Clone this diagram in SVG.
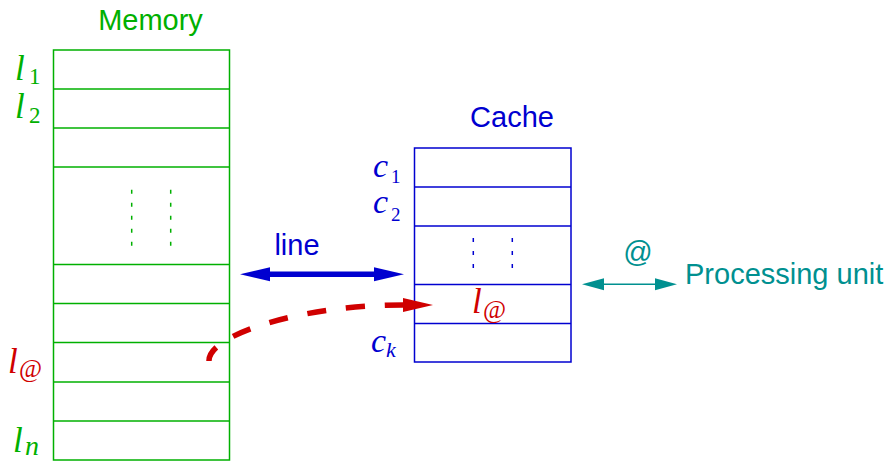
<svg xmlns="http://www.w3.org/2000/svg" width="889" height="461" viewBox="0 0 889 461">
<style>
.sans{font-family:"Liberation Sans",Arial,sans-serif;font-size:29px}
.mi{font-family:"Liberation Serif","Times New Roman",serif;font-style:italic}
.rm{font-family:"Liberation Serif","Times New Roman",serif}
.g{fill:#00b000}.b{fill:#0000d0}.r{fill:#d00000}.t{fill:#009090}
.box{fill:none;stroke-width:1.5}
.dots{stroke-width:1.5;stroke-dasharray:4 9}
</style>
<defs>
<marker id="ab" markerUnits="userSpaceOnUse" markerWidth="30" markerHeight="14" refX="0" refY="7" orient="auto-start-reverse" overflow="visible"><path d="M0,0 L30,7 L0,14 z" fill="#0000d0"/></marker>
<marker id="at" markerUnits="userSpaceOnUse" markerWidth="22" markerHeight="12" refX="0" refY="6" orient="auto-start-reverse" overflow="visible"><path d="M0,0 L22,6 L0,12 z" fill="#009090"/></marker>
<marker id="ar" markerUnits="userSpaceOnUse" markerWidth="30" markerHeight="14" refX="0" refY="7" orient="auto" overflow="visible"><path d="M0,0 L30,7 L0,14 z" fill="#d00000"/></marker>
</defs>

<g id="memory">
<text class="sans g" x="150.5" y="30" text-anchor="middle">Memory</text>
<rect class="box" x="53.5" y="50" width="176" height="410" stroke="#00b000"/>
<g stroke="#00b000" stroke-width="1.5">
<line x1="53.5" y1="89" x2="229.5" y2="89"/>
<line x1="53.5" y1="128" x2="229.5" y2="128"/>
<line x1="53.5" y1="167" x2="229.5" y2="167"/>
<line x1="53.5" y1="264.5" x2="229.5" y2="264.5"/>
<line x1="53.5" y1="303.5" x2="229.5" y2="303.5"/>
<line x1="53.5" y1="342.5" x2="229.5" y2="342.5"/>
<line x1="53.5" y1="382" x2="229.5" y2="382"/>
<line x1="53.5" y1="421" x2="229.5" y2="421"/>
</g>
<g stroke="#00b000" class="dots">
<line x1="131.7" y1="189.7" x2="131.7" y2="246"/>
<line x1="170.7" y1="189.7" x2="170.7" y2="246"/>
</g>
<text class="g"><tspan class="mi" x="15" y="80" font-size="35">l</tspan><tspan class="rm" x="29" y="84" font-size="23">1</tspan></text>
<text class="g"><tspan class="mi" x="15" y="118" font-size="35">l</tspan><tspan class="rm" x="29" y="123" font-size="23">2</tspan></text>
<text class="r"><tspan class="mi" x="8" y="372.7" font-size="35">l</tspan><tspan class="rm" x="19" y="376.5" font-size="25">@</tspan></text>
<text class="g"><tspan class="mi" x="13" y="451.7" font-size="35">l</tspan><tspan class="mi" x="25" y="455" font-size="28">n</tspan></text>
</g>

<g id="cache">
<text class="sans b" x="512" y="126.7" text-anchor="middle">Cache</text>
<rect class="box" x="414.5" y="148" width="156.5" height="214" stroke="#0000d0"/>
<g stroke="#0000d0" stroke-width="1.5">
<line x1="414.5" y1="187" x2="571" y2="187"/>
<line x1="414.5" y1="226" x2="571" y2="226"/>
<line x1="414.5" y1="284.5" x2="571" y2="284.5"/>
<line x1="414.5" y1="323.5" x2="571" y2="323.5"/>
</g>
<g stroke="#0000d0" class="dots">
<line x1="473.3" y1="238" x2="473.3" y2="268"/>
<line x1="512.3" y1="238" x2="512.3" y2="268"/>
</g>
<text class="b"><tspan class="mi" x="373" y="176.7" font-size="34">c</tspan><tspan class="rm" x="391" y="183.3" font-size="19">1</tspan></text>
<text class="b"><tspan class="mi" x="373" y="213.3" font-size="34">c</tspan><tspan class="rm" x="391" y="221.3" font-size="19">2</tspan></text>
<text class="b"><tspan class="mi" x="371" y="351.7" font-size="34">c</tspan><tspan class="mi" x="386" y="356.7" font-size="22">k</tspan></text>
<text class="r"><tspan class="mi" x="472" y="313.3" font-size="35">l</tspan><tspan class="rm" x="483" y="318" font-size="25">@</tspan></text>
</g>

<g id="processing-unit">
<text class="sans t" x="685" y="283.5">Processing unit</text>
</g>

<g id="connectors">
<line x1="270" y1="274.3" x2="374" y2="274.3" stroke="#0000d0" stroke-width="5.5" marker-start="url(#ab)" marker-end="url(#ab)"/>
<text class="sans b" x="297" y="255" text-anchor="middle">line</text>
<line x1="604" y1="284.3" x2="655" y2="284.3" stroke="#009090" stroke-width="1.5" marker-start="url(#at)" marker-end="url(#at)"/>
<text class="sans t" x="638" y="262" text-anchor="middle" font-size="26">@</text>
<path d="M209,361 C208,335 300,305 403,305" fill="none" stroke="#d00000" stroke-width="5.5" stroke-dasharray="19 20" stroke-dashoffset="3" marker-end="url(#ar)"/>
</g>
</svg>
